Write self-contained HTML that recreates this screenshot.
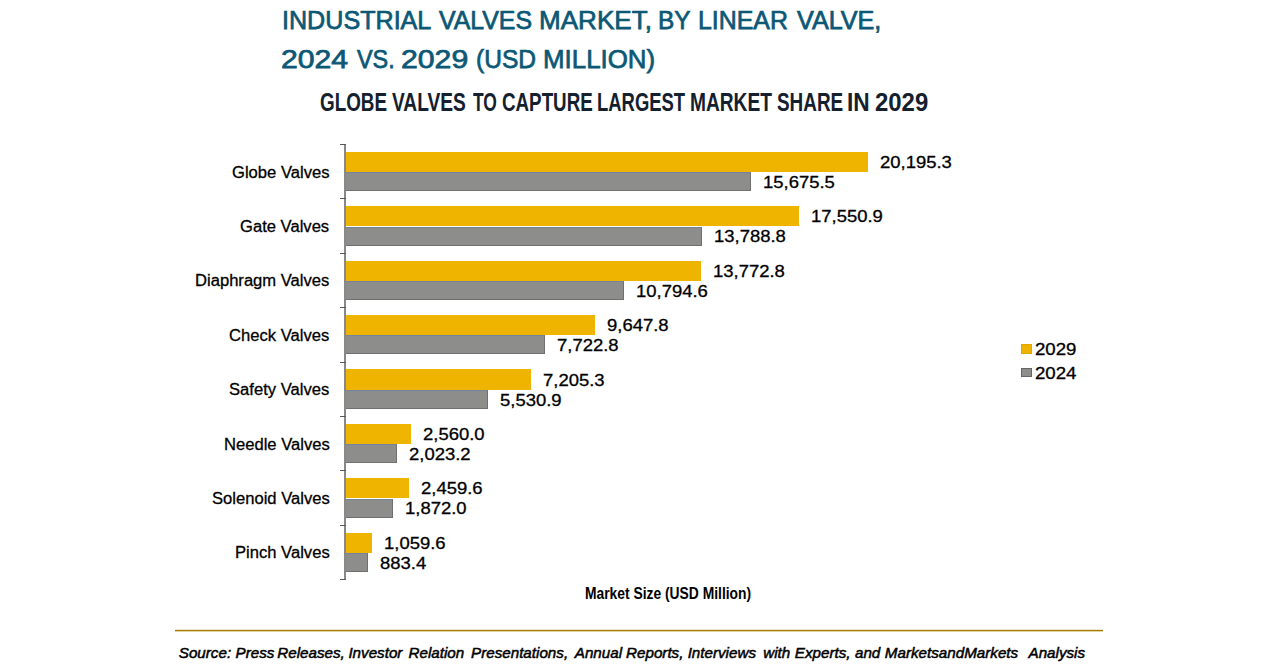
<!DOCTYPE html>
<html><head><meta charset="utf-8"><title>Industrial Valves Market, by Linear Valve</title>
<style>
*{margin:0;padding:0;box-sizing:border-box}
html,body{width:1280px;height:670px;background:#fff;overflow:hidden}
body{position:relative;font-family:"Liberation Sans",Arial,sans-serif}
.t{position:absolute;white-space:nowrap;line-height:1;transform-origin:0 50%;color:#000;-webkit-text-stroke:0.3px}
.by,.bg{position:absolute;left:345.00px}
.by{height:20.30px}
.bg{height:19.00px}
.by{background:#efb400}
.bg{background:#8d8e8c;border-top:1.5px solid #7283a0;border-right:1px solid #707070;border-bottom:1px solid #707070}
.ax{position:absolute;left:344.00px;top:144.60px;width:2px;height:435.20px;background:#888}
.tk{position:absolute;left:339.5px;width:6px;height:1px;background:#5a5a5a}
.lg{position:absolute;left:1021.3px;width:10.7px;height:9.8px}
.sep{position:absolute;left:175px;top:629px;width:928px;height:3px;background:linear-gradient(#f2e8cc 0 1px,#a27a05 1px 2px,#e3d3a0 2px 3px)}
</style></head>
<body>
<div class="by" style="top:151.80px;width:522.50px"></div>
<div class="bg" style="top:172.10px;width:405.56px"></div>
<div class="by" style="top:206.20px;width:454.08px"></div>
<div class="bg" style="top:226.50px;width:356.75px"></div>
<div class="by" style="top:260.60px;width:356.33px"></div>
<div class="bg" style="top:280.90px;width:279.28px"></div>
<div class="by" style="top:315.00px;width:249.61px"></div>
<div class="bg" style="top:335.30px;width:199.81px"></div>
<div class="by" style="top:369.40px;width:186.42px"></div>
<div class="bg" style="top:389.70px;width:143.10px"></div>
<div class="by" style="top:423.80px;width:66.23px"></div>
<div class="bg" style="top:444.10px;width:52.34px"></div>
<div class="by" style="top:478.20px;width:63.64px"></div>
<div class="bg" style="top:498.50px;width:48.43px"></div>
<div class="by" style="top:532.60px;width:27.41px"></div>
<div class="bg" style="top:552.90px;width:22.86px"></div>
<div class="ax"></div>
<div class="tk" style="top:144px"></div>
<div class="tk" style="top:198px"></div>
<div class="tk" style="top:253px"></div>
<div class="tk" style="top:307px"></div>
<div class="tk" style="top:362px"></div>
<div class="tk" style="top:416px"></div>
<div class="tk" style="top:470px"></div>
<div class="tk" style="top:525px"></div>
<div class="tk" style="top:579px"></div>
<div class="lg" style="top:344.2px;background:#efb400;border:1px solid #e3a800"></div>
<div class="lg" style="top:367.6px;background:#8d8e8c;border:1px solid #666"></div>
<div class="sep"></div>
<div class="t" style="left:282.01px;top:7.00px;font-size:26.23px;-webkit-text-stroke:0.75px;color:#0c5875;transform:scaleX(0.9580)">INDUSTRIAL </div>
<div class="t" style="left:439.23px;top:7.00px;font-size:26.23px;-webkit-text-stroke:0.75px;color:#0c5875;transform:scaleX(0.9479)">VALVES </div>
<div class="t" style="left:539.39px;top:7.00px;font-size:26.23px;-webkit-text-stroke:0.75px;color:#0c5875;transform:scaleX(0.9938)">MARKET, </div>
<div class="t" style="left:658.42px;top:7.00px;font-size:26.23px;-webkit-text-stroke:0.75px;color:#0c5875;transform:scaleX(0.9313)">BY </div>
<div class="t" style="left:698.48px;top:7.00px;font-size:26.23px;-webkit-text-stroke:0.75px;color:#0c5875;transform:scaleX(0.9492)">LINEAR </div>
<div class="t" style="left:796.72px;top:7.00px;font-size:26.23px;-webkit-text-stroke:0.75px;color:#0c5875;transform:scaleX(0.9589)">VALVE,</div>
<div class="t" style="left:281.47px;top:45.60px;font-size:26.23px;-webkit-text-stroke:0.75px;color:#0c5875;transform:scaleX(1.1499)">2024 </div>
<div class="t" style="left:357.14px;top:45.60px;font-size:26.23px;-webkit-text-stroke:0.75px;color:#0c5875;transform:scaleX(0.8924)">VS. </div>
<div class="t" style="left:401.26px;top:45.60px;font-size:26.23px;-webkit-text-stroke:0.75px;color:#0c5875;transform:scaleX(1.1517)">2029 </div>
<div class="t" style="left:475.50px;top:45.60px;font-size:26.23px;-webkit-text-stroke:0.75px;color:#0c5875;transform:scaleX(0.9359)">(USD </div>
<div class="t" style="left:543.30px;top:45.60px;font-size:26.23px;-webkit-text-stroke:0.75px;color:#0c5875;transform:scaleX(0.9867)">MILLION)</div>
<div class="t" style="left:320.25px;top:89.57px;font-size:25.80px;-webkit-text-stroke:0px;font-weight:700;color:#14202e;transform:scaleX(0.7307)">GLOBE </div>
<div class="t" style="left:392.01px;top:89.57px;font-size:25.80px;-webkit-text-stroke:0px;font-weight:700;color:#14202e;transform:scaleX(0.7426)">VALVES </div>
<div class="t" style="left:472.93px;top:89.57px;font-size:25.80px;-webkit-text-stroke:0px;font-weight:700;color:#14202e;transform:scaleX(0.6754)">TO </div>
<div class="t" style="left:501.65px;top:89.57px;font-size:25.80px;-webkit-text-stroke:0px;font-weight:700;color:#14202e;transform:scaleX(0.7276)">CAPTURE </div>
<div class="t" style="left:596.71px;top:89.57px;font-size:25.80px;-webkit-text-stroke:0px;font-weight:700;color:#14202e;transform:scaleX(0.7151)">LARGEST </div>
<div class="t" style="left:690.16px;top:89.57px;font-size:25.80px;-webkit-text-stroke:0px;font-weight:700;color:#14202e;transform:scaleX(0.7421)">MARKET </div>
<div class="t" style="left:776.83px;top:89.57px;font-size:25.80px;-webkit-text-stroke:0px;font-weight:700;color:#14202e;transform:scaleX(0.7329)">SHARE </div>
<div class="t" style="left:846.91px;top:89.57px;font-size:25.80px;-webkit-text-stroke:0px;font-weight:700;color:#14202e;transform:scaleX(0.8790)">IN </div>
<div class="t" style="left:875.08px;top:89.57px;font-size:25.80px;-webkit-text-stroke:0px;font-weight:700;color:#14202e;transform:scaleX(0.9278)">2029</div>
<div class="t" style="left:231.99px;top:163.54px;font-size:17.25px;transform:scaleX(0.9620)">Globe Valves</div>
<div class="t" style="left:879.50px;top:154.92px;font-size:16.80px;transform:scaleX(1.1000)">20,195.3</div>
<div class="t" style="left:762.56px;top:174.92px;font-size:16.80px;transform:scaleX(1.1000)">15,675.5</div>
<div class="t" style="left:240.29px;top:217.94px;font-size:17.25px;transform:scaleX(0.9620)">Gate Valves</div>
<div class="t" style="left:811.08px;top:209.32px;font-size:16.80px;transform:scaleX(1.1000)">17,550.9</div>
<div class="t" style="left:713.75px;top:229.32px;font-size:16.80px;transform:scaleX(1.1000)">13,788.8</div>
<div class="t" style="left:195.15px;top:272.34px;font-size:17.25px;transform:scaleX(0.9620)">Diaphragm Valves</div>
<div class="t" style="left:713.33px;top:263.72px;font-size:16.80px;transform:scaleX(1.1000)">13,772.8</div>
<div class="t" style="left:636.28px;top:283.72px;font-size:16.80px;transform:scaleX(1.1000)">10,794.6</div>
<div class="t" style="left:229.33px;top:326.74px;font-size:17.25px;transform:scaleX(0.9620)">Check Valves</div>
<div class="t" style="left:606.61px;top:318.12px;font-size:16.80px;transform:scaleX(1.1000)">9,647.8</div>
<div class="t" style="left:556.81px;top:338.12px;font-size:16.80px;transform:scaleX(1.1000)">7,722.8</div>
<div class="t" style="left:229.33px;top:381.14px;font-size:17.25px;transform:scaleX(0.9620)">Safety Valves</div>
<div class="t" style="left:543.42px;top:372.52px;font-size:16.80px;transform:scaleX(1.1000)">7,205.3</div>
<div class="t" style="left:500.10px;top:392.52px;font-size:16.80px;transform:scaleX(1.1000)">5,530.9</div>
<div class="t" style="left:223.69px;top:435.54px;font-size:17.25px;transform:scaleX(0.9620)">Needle Valves</div>
<div class="t" style="left:423.23px;top:426.92px;font-size:16.80px;transform:scaleX(1.1000)">2,560.0</div>
<div class="t" style="left:409.34px;top:446.92px;font-size:16.80px;transform:scaleX(1.1000)">2,023.2</div>
<div class="t" style="left:211.74px;top:489.94px;font-size:17.25px;transform:scaleX(0.9620)">Solenoid Valves</div>
<div class="t" style="left:420.64px;top:481.32px;font-size:16.80px;transform:scaleX(1.1000)">2,459.6</div>
<div class="t" style="left:405.43px;top:501.32px;font-size:16.80px;transform:scaleX(1.1000)">1,872.0</div>
<div class="t" style="left:234.81px;top:544.34px;font-size:17.25px;transform:scaleX(0.9620)">Pinch Valves</div>
<div class="t" style="left:384.41px;top:535.72px;font-size:16.80px;transform:scaleX(1.1000)">1,059.6</div>
<div class="t" style="left:379.86px;top:555.72px;font-size:16.80px;transform:scaleX(1.1000)">883.4</div>
<div class="t" style="left:1035.07px;top:340.85px;font-size:16.41px;transform:scaleX(1.1359)">2029</div>
<div class="t" style="left:1035.07px;top:364.95px;font-size:16.41px;transform:scaleX(1.1359)">2024</div>
<div class="t" style="left:584.93px;top:585.79px;font-size:16.96px;-webkit-text-stroke:0px;font-weight:700;transform:scaleX(0.8171)">Market Size (USD Million)</div>
<div class="t" style="left:178.79px;top:645.18px;font-size:15.20px;-webkit-text-stroke:0.5px;font-style:italic;transform:scaleX(1.0000)">Source: </div>
<div class="t" style="left:235.54px;top:645.18px;font-size:15.20px;-webkit-text-stroke:0.5px;font-style:italic;transform:scaleX(1.0000)">Press </div>
<div class="t" style="left:277.29px;top:645.18px;font-size:15.20px;-webkit-text-stroke:0.5px;font-style:italic;transform:scaleX(1.0000)">Releases, </div>
<div class="t" style="left:348.39px;top:645.18px;font-size:15.20px;-webkit-text-stroke:0.5px;font-style:italic;transform:scaleX(1.0000)">Investor </div>
<div class="t" style="left:408.54px;top:645.18px;font-size:15.20px;-webkit-text-stroke:0.5px;font-style:italic;transform:scaleX(1.0000)">Relation </div>
<div class="t" style="left:471.04px;top:645.18px;font-size:15.20px;-webkit-text-stroke:0.5px;font-style:italic;transform:scaleX(1.0000)">Presentations, </div>
<div class="t" style="left:574.76px;top:645.18px;font-size:15.20px;-webkit-text-stroke:0.5px;font-style:italic;transform:scaleX(1.0000)">Annual </div>
<div class="t" style="left:626.04px;top:645.18px;font-size:15.20px;-webkit-text-stroke:0.5px;font-style:italic;transform:scaleX(1.0000)">Reports, </div>
<div class="t" style="left:687.64px;top:645.18px;font-size:15.20px;-webkit-text-stroke:0.5px;font-style:italic;transform:scaleX(1.0000)">Interviews </div>
<div class="t" style="left:763.24px;top:645.18px;font-size:15.20px;-webkit-text-stroke:0.5px;font-style:italic;transform:scaleX(1.0000)">with </div>
<div class="t" style="left:794.79px;top:645.18px;font-size:15.20px;-webkit-text-stroke:0.5px;font-style:italic;transform:scaleX(1.0000)">Experts, </div>
<div class="t" style="left:854.95px;top:645.18px;font-size:15.20px;-webkit-text-stroke:0.5px;font-style:italic;transform:scaleX(1.0000)">and </div>
<div class="t" style="left:884.79px;top:645.18px;font-size:15.20px;-webkit-text-stroke:0.5px;font-style:italic;transform:scaleX(1.0000)">MarketsandMarkets </div>
<div class="t" style="left:1028.51px;top:645.18px;font-size:15.20px;-webkit-text-stroke:0.5px;font-style:italic;transform:scaleX(1.0000)">Analysis</div>
</body></html>
